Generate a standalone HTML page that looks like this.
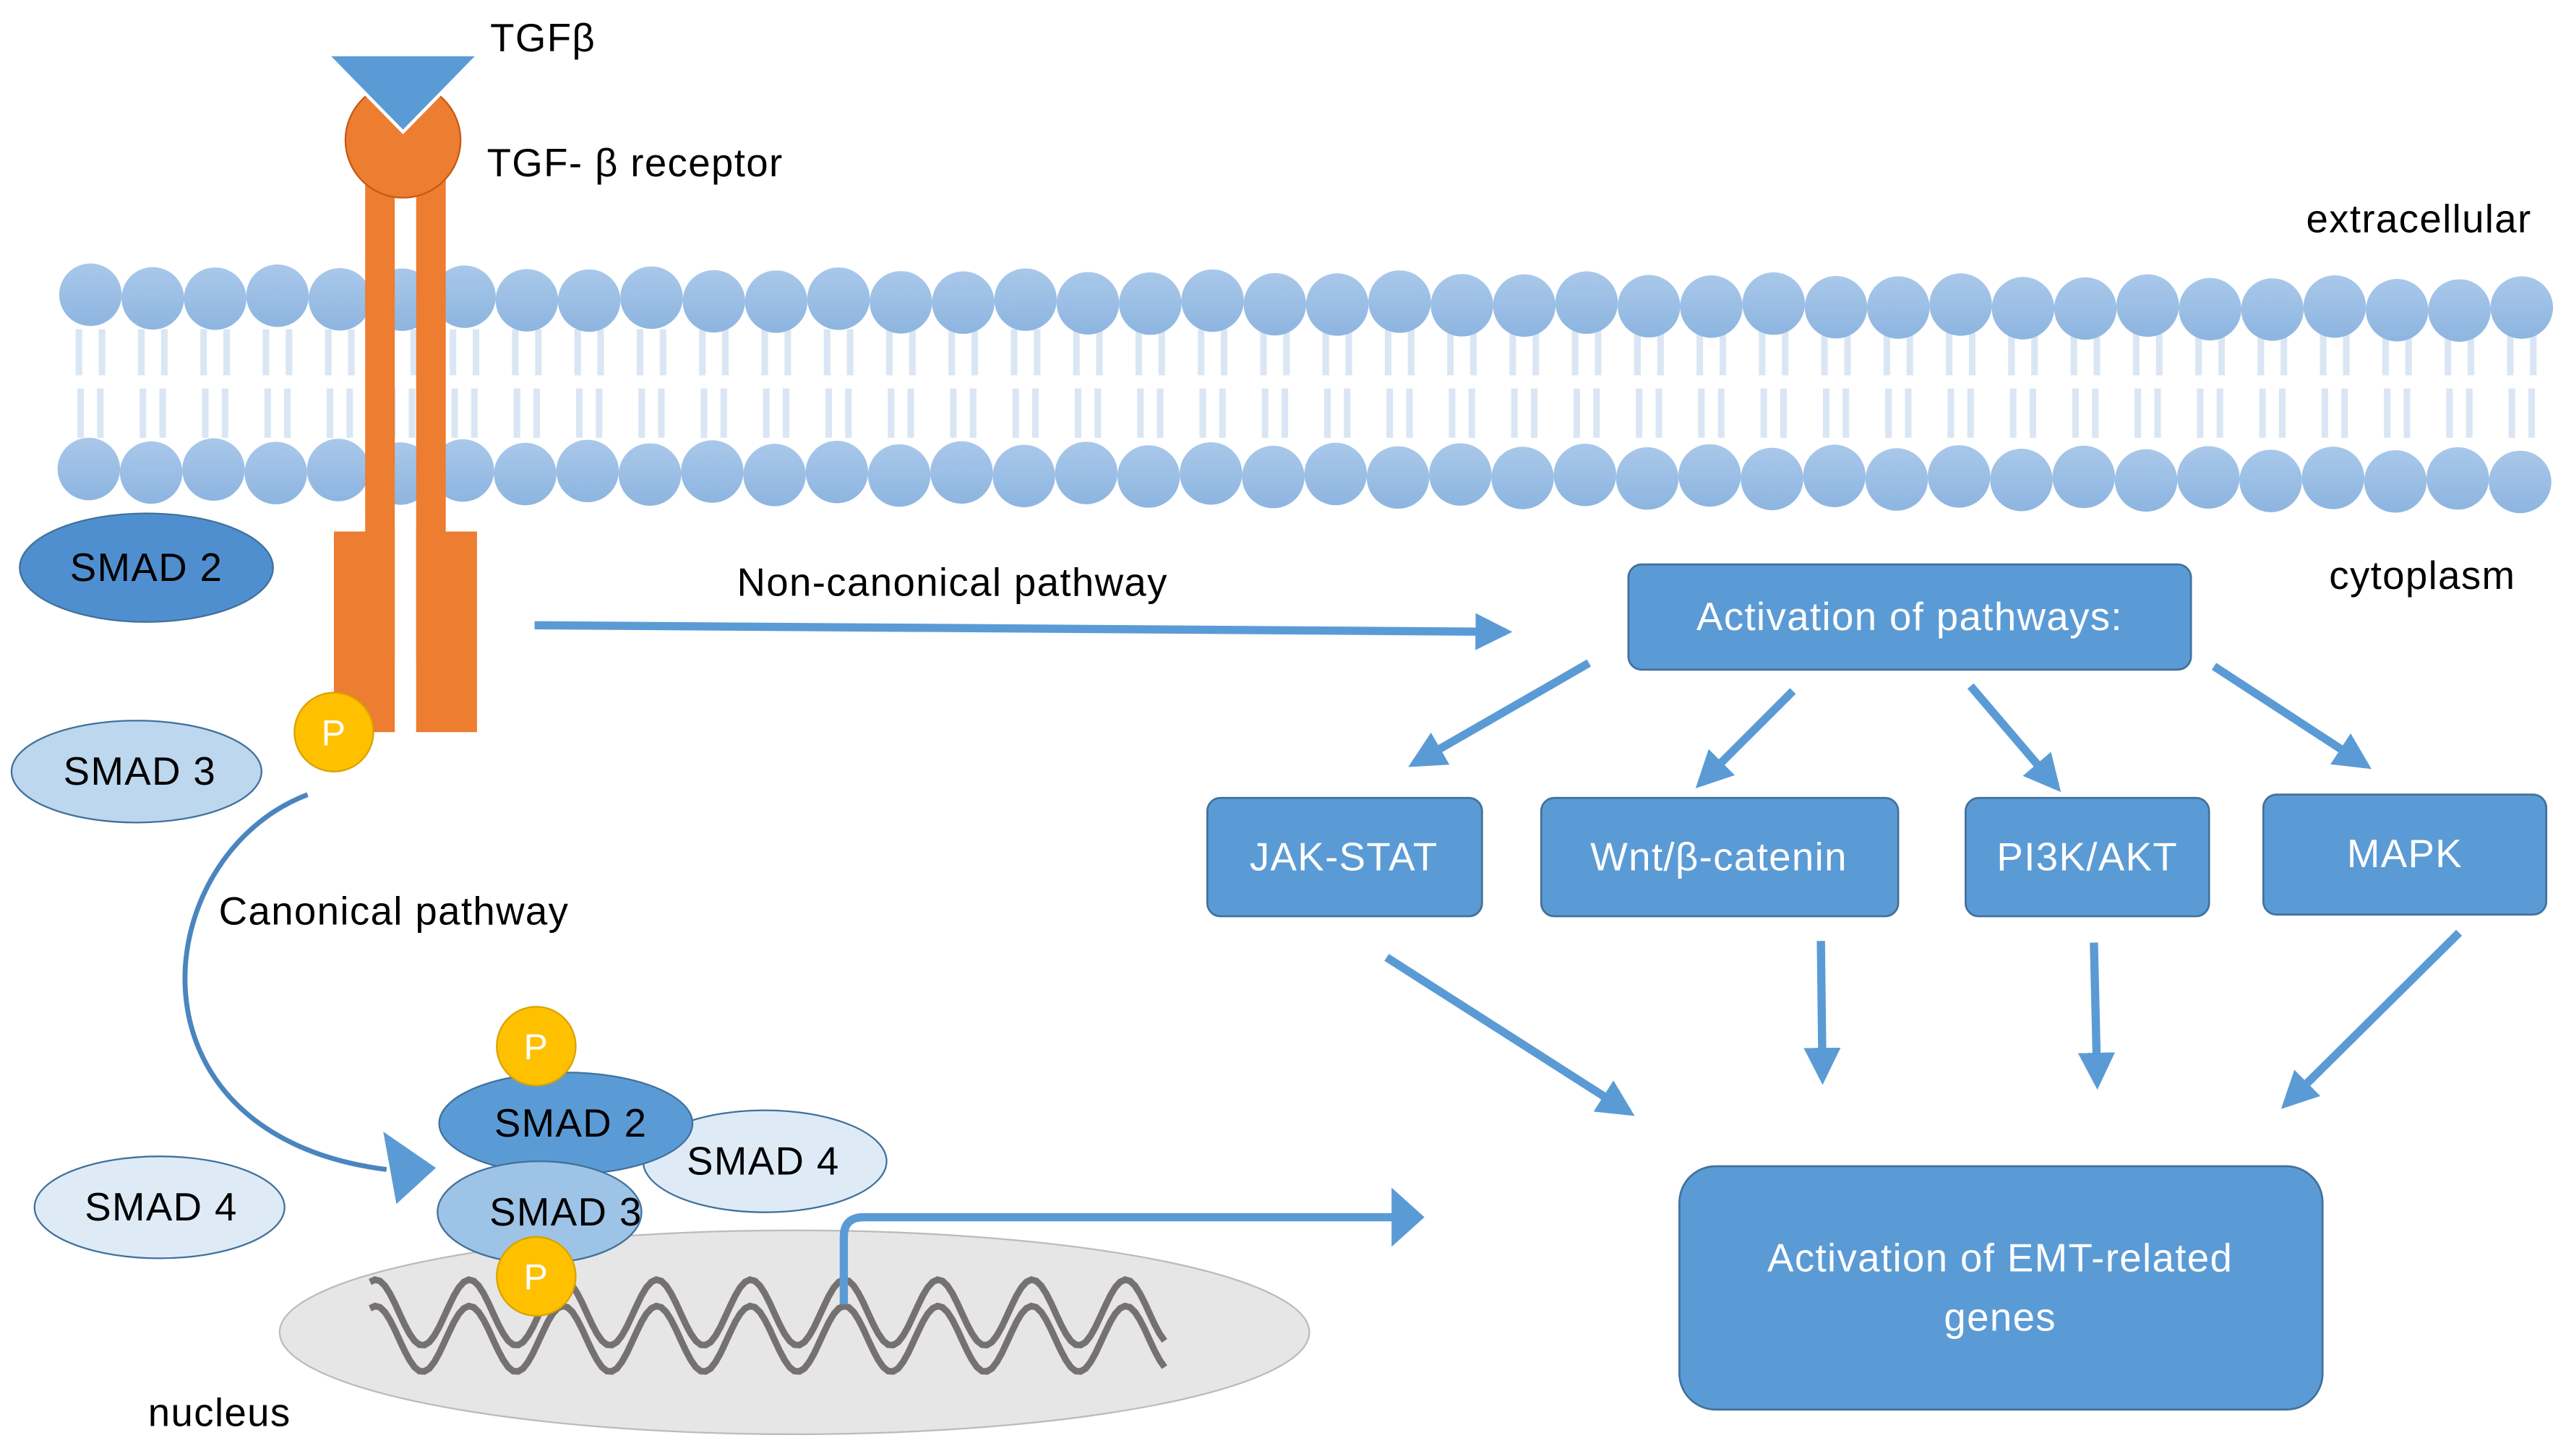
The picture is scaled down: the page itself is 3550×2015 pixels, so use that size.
<!DOCTYPE html>
<html><head><meta charset="utf-8"><style>
html,body{margin:0;padding:0;background:#fff;}
svg{display:block;}
text{font-family:"Liberation Sans",sans-serif;letter-spacing:0.6px;}
</style></head><body>
<svg id="s" width="3550" height="2015" viewBox="0 0 1560 885" xmlns="http://www.w3.org/2000/svg">
<defs>
<linearGradient id="hg" x1="0" y1="0" x2="0" y2="1"><stop offset="0" stop-color="#a9c8ea"/><stop offset="1" stop-color="#8db5e0"/></linearGradient>
<marker id="ah" viewBox="0 0 10 10" refX="8" refY="5" markerWidth="4.5" markerHeight="4.5" orient="auto"><path d="M0,0 L10,5 L0,10 z" fill="#5b9bd5"/></marker>
</defs>
<g id="mem"></g>
<rect x="222" y="100" width="18" height="300" fill="#ed7d31"/>
<rect x="253" y="100" width="18" height="300" fill="#ed7d31"/>
<rect x="203" y="323" width="37" height="122" fill="#ed7d31"/>
<rect x="253" y="323" width="37" height="122" fill="#ed7d31"/>
<circle cx="245" cy="85" r="35" fill="#ed7d31" stroke="#c55a11" stroke-width="1"/>
<polygon points="199,33 291,33 245,80" fill="#5b9bd5" stroke="#fff" stroke-width="2"/>
<text x="298" y="31" font-size="24">TGFβ</text>
<text x="296" y="107" font-size="24">TGF- β receptor</text>
<text x="1402" y="141" font-size="24">extracellular</text>
<text x="1416" y="358" font-size="24">cytoplasm</text>
<ellipse cx="89" cy="345" rx="77" ry="33" fill="#4f8fd0" stroke="#41719c"/>
<text x="89" y="353" font-size="24" text-anchor="middle">SMAD 2</text>
<ellipse cx="83" cy="469" rx="76" ry="31" fill="#bdd7ee" stroke="#41719c"/>
<text x="85" y="477" font-size="24" text-anchor="middle">SMAD 3</text>
<circle cx="203" cy="445" r="24" fill="#ffc000" stroke="#d9a300"/>
<text x="203" y="453" font-size="22" fill="#fff" text-anchor="middle">P</text>
<path d="M187,483 C90,520 70,690 235,711" fill="none" stroke="#4a85bf" stroke-width="3"/>
<polygon points="265,710 233,688 241,732" fill="#5b9bd5"/>
<text x="133" y="562" font-size="24">Canonical pathway</text>
<ellipse cx="97" cy="734" rx="76" ry="31" fill="#deebf7" stroke="#41719c"/>
<text x="98" y="742" font-size="24" text-anchor="middle">SMAD 4</text>
<ellipse cx="483" cy="810" rx="313" ry="62" fill="#e7e6e6" stroke="#bbb"/>
<path id="dna1" fill="none" stroke="#767171" stroke-width="4"/>
<path id="dna2" fill="none" stroke="#767171" stroke-width="4"/>
<path d="M513,793 L513,752 Q513,740 525,740 L848,740" fill="none" stroke="#5b9bd5" stroke-width="5"/>
<polygon points="866,740 846,722 846,758" fill="#5b9bd5"/>
<text x="90" y="867" font-size="24">nucleus</text>
<ellipse cx="465" cy="706" rx="74" ry="31" fill="#deebf7" stroke="#41719c"/>
<text x="464" y="714" font-size="24" text-anchor="middle">SMAD 4</text>
<ellipse cx="344" cy="683" rx="77" ry="31" fill="#5b9bd5" stroke="#41719c"/>
<text x="347" y="691" font-size="24" text-anchor="middle">SMAD 2</text>
<ellipse cx="328" cy="737" rx="62" ry="31" fill="#9dc3e6" stroke="#41719c"/>
<text x="344" y="745" font-size="24" text-anchor="middle">SMAD 3</text>
<circle cx="326" cy="636" r="24" fill="#ffc000" stroke="#d9a300"/>
<text x="326" y="644" font-size="22" fill="#fff" text-anchor="middle">P</text>
<circle cx="326" cy="776" r="24" fill="#ffc000" stroke="#d9a300"/>
<text x="326" y="784" font-size="22" fill="#fff" text-anchor="middle">P</text>
<text x="448" y="362" font-size="24">Non-canonical pathway</text>
<line x1="325" y1="380" x2="915" y2="384" stroke="#5b9bd5" stroke-width="5" marker-end="url(#ah)"/>
<g fill="#5b9bd5" stroke="#41719c" stroke-width="1.2">
<rect x="990" y="343" width="342" height="64" rx="8"/>
<rect x="734" y="485" width="167" height="72" rx="8"/>
<rect x="937" y="485" width="217" height="72" rx="8"/>
<rect x="1195" y="485" width="148" height="72" rx="8"/>
<rect x="1376" y="483" width="172" height="73" rx="8"/>
<rect x="1021" y="709" width="391" height="148" rx="22"/>
</g>
<g fill="#fff" font-size="24" text-anchor="middle">
<text x="1161" y="383">Activation of pathways:</text>
<text x="817" y="529">JAK-STAT</text>
<text x="1045" y="529">Wnt/β-catenin</text>
<text x="1269" y="529">PI3K/AKT</text>
<text x="1462" y="527">MAPK</text>
<text x="1216" y="773">Activation of EMT-related</text>
<text x="1216" y="809">genes</text>
</g>
<g stroke="#5b9bd5" stroke-width="5" marker-end="url(#ah)">
<line x1="966" y1="403" x2="860" y2="464"/>
<line x1="1090" y1="420" x2="1034" y2="476"/>
<line x1="1198" y1="417" x2="1250" y2="478"/>
<line x1="1346" y1="405" x2="1438" y2="465"/>
<line x1="843" y1="582" x2="990" y2="676"/>
<line x1="1107" y1="572" x2="1108" y2="655"/>
<line x1="1273" y1="573" x2="1275" y2="658"/>
<line x1="1495" y1="567" x2="1390" y2="671"/>
</g>
</svg>
<script>
(function(){
var ns="http://www.w3.org/2000/svg",g=document.getElementById("mem");
function el(t,a){var e=document.createElementNS(ns,t);for(var k in a)e.setAttribute(k,a[k]);g.appendChild(e);}
for(var i=0;i<40;i++){
 var x=55+i*37.9;
 var yu=180+(i%3==0?-1:1)+i*0.2, yl=286+i*0.15+(i%2?1:-1);
 [[-7,200,228],[7,200,228],[-6,236,266],[6,236,266]].forEach(function(t){
  el("line",{x1:x+t[0],y1:t[1],x2:x+t[0],y2:t[2],stroke:"#dae6f3","stroke-width":4});});
 el("circle",{cx:x,cy:yu,r:19,fill:"url(#hg)"});
 el("circle",{cx:x-1,cy:yl,r:19,fill:"url(#hg)"});
}
function wave(id,y0){var d="";for(var x=225;x<=708;x+=3){var y=y0-20*Math.sin((x-225)/57*2*Math.PI+1.2);d+=(x==225?"M":"L")+x+","+y.toFixed(1);}document.getElementById(id).setAttribute("d",d);}
wave("dna1",798);wave("dna2",814);
})();
</script>
</body></html>
